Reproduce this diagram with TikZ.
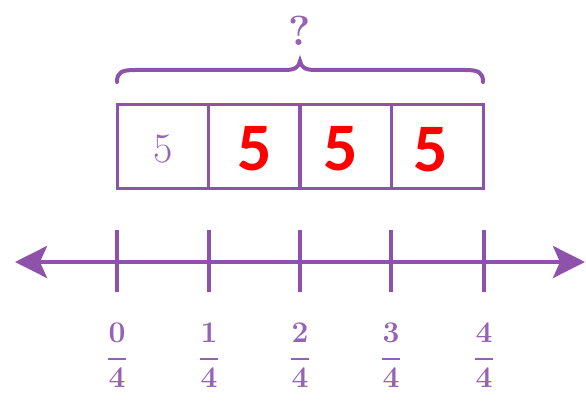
\documentclass[tikz,border=0pt]{standalone}
\usepackage{fontspec}
\newfontfamily\carlito{Carlito}
\usetikzlibrary{arrows.meta}
\definecolor{pline}{RGB}{142,82,170}
\definecolor{ptext}{RGB}{150,98,182}
\definecolor{myred}{RGB}{255,0,0}
\begin{document}
\begin{tikzpicture}[x=1pt,y=-1pt,
  cell/.style={draw=pline,line width=3pt,minimum width=91.75pt,minimum height=83pt,inner sep=0pt,anchor=center},
  redfive/.style={text=myred,font=\carlito\bfseries\fontsize{68}{76}\selectfont},
  lbl/.style={text=ptext,font=\bfseries\fontsize{30}{36}\selectfont,inner sep=0pt},
  tick/.style={draw=pline,line width=3.5pt},
  fbar/.style={draw=ptext,line width=2.4pt},
  nline/.style={draw=pline,line width=4pt,{Stealth[length=32pt,width=32pt,inset=7pt]}-{Stealth[length=32pt,width=32pt,inset=7pt]}}]
\useasboundingbox (0,0) rectangle (586,401);
% brace
\draw[pline,line width=4pt,line cap=round] (117,82) .. controls (117,72) and (122,70) .. (135,70) -- (285,70) .. controls (295,70) and (299,67) .. (300,61) .. controls (301,67) and (305,70) .. (315,70) -- (465,70) .. controls (478,70) and (483,72) .. (483,82);
\node[text=ptext,font=\bfseries\fontsize{42}{50}\selectfont,inner sep=0pt] (q) at (300,31) {?};
% cells
\node[cell] (c1) at (163,146.5) {};
\node[cell] (c2) at (254.5,146.5) {};
\node[cell] (c3) at (345.5,146.5) {};
\node[cell] (c4) at (437.5,146.5) {};
\node[text=ptext,font=\fontsize{42}{48}\selectfont] (f1) at (163,149) {5};
\node[redfive] (f2) at (254.5,149) {5};
\node[redfive] (f3) at (341,149) {5};
\node[redfive] (f4) at (431,150) {5};
% number line
\coordinate (L) at (15,262);
\coordinate (R) at (585,262);
\draw[nline] (L) -- (R);
\foreach \i/\x in {0/117,1/209,2/300,3/391,4/484}{
  \coordinate (t\i a) at (\x,230);
  \coordinate (t\i b) at (\x,292);
  \draw[tick] (t\i a) -- (t\i b);
  \node[lbl] (n\i) at (\x,333) {\i};
  \node[lbl] (d\i) at (\x,378) {4};
  \coordinate (b\i l) at (\x-9,359);
  \coordinate (b\i r) at (\x+9,359);
  \draw[fbar] (b\i l) -- (b\i r);
}
\end{tikzpicture}
\end{document}
